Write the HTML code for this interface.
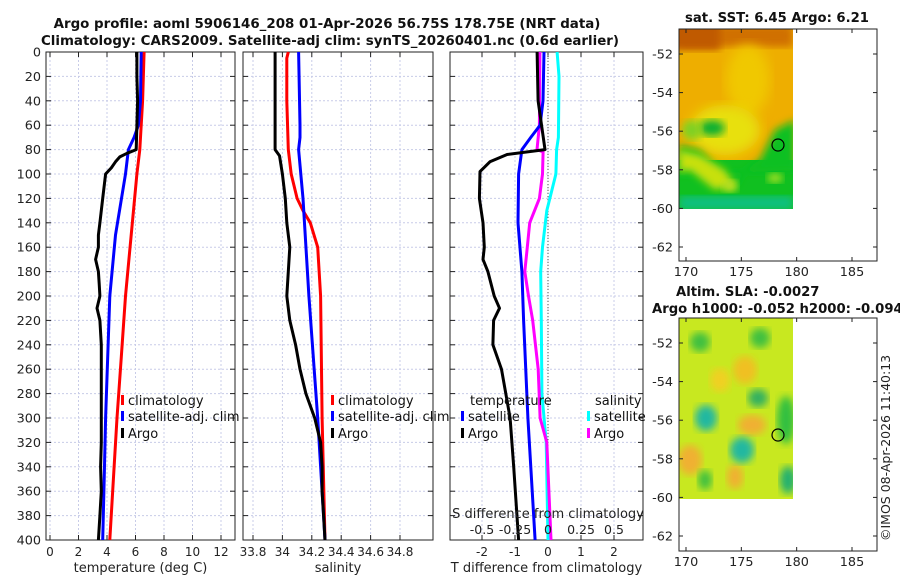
<!DOCTYPE html>
<html><head><meta charset="utf-8"><style>
body{margin:0;background:#fff;}
svg{display:block;font-family:"DejaVu Sans","Liberation Sans",sans-serif;}
</style></head><body>
<svg id="c" width="900" height="580" viewBox="0 0 900 580">
<defs>
<filter id="bl"><feGaussianBlur stdDeviation="4"/></filter>
<filter id="bl2"><feGaussianBlur stdDeviation="6"/></filter>
<clipPath id="m1"><rect x="679" y="29" width="114" height="180"/></clipPath>
<clipPath id="m2"><rect x="679" y="318" width="114" height="181"/></clipPath>
</defs>
<g font-weight="bold" font-size="13.4" text-anchor="middle" fill="#111">
<text x="327" y="28">Argo profile: aoml 5906146_208 01-Apr-2026 56.75S 178.75E (NRT data)</text>
<text x="330" y="45">Climatology: CARS2009. Satellite-adj clim: synTS_20260401.nc (0.6d earlier)</text>
</g>
<!-- SST map -->
<g>
<g clip-path="url(#m1)">
<rect x="679" y="29" width="114" height="180" fill="#eeae00"/>
<rect x="679" y="25" width="114" height="22" fill="#d07000" filter="url(#bl)"/>
<rect x="670" y="20" width="50" height="30" fill="#c05a00" filter="url(#bl)"/>
<ellipse cx="748" cy="80" rx="22" ry="35" fill="#f0c800" filter="url(#bl2)"/>
<ellipse cx="725" cy="130" rx="35" ry="25" fill="#e8e010" filter="url(#bl2)"/>
<rect x="679" y="160" width="114" height="60" fill="#10c020"/>
<path d="M679 145 L700 150 L720 170 L735 188 L745 170 L760 160 L775 130 L795 120 L795 170 L679 175 Z" fill="#10c020" filter="url(#bl)"/>
<path d="M679 150 L700 155 L725 170 L735 185 L715 190 L690 170 L679 172 Z" fill="#c8e010" filter="url(#bl)"/>
<ellipse cx="712" cy="128" rx="13" ry="8" fill="#10b030" filter="url(#bl)"/>
<ellipse cx="692" cy="130" rx="10" ry="10" fill="#80d020" filter="url(#bl)"/>
<rect x="679" y="196" width="114" height="14" fill="#10c080" filter="url(#bl)"/>
<ellipse cx="730" cy="186" rx="8" ry="6" fill="#c0e020" filter="url(#bl)"/>
<ellipse cx="775" cy="178" rx="8" ry="5" fill="#a0e020" filter="url(#bl)"/>
</g>
<circle cx="778" cy="145" r="6" fill="none" stroke="#000" stroke-width="1.2"/>
</g>
<!-- SLA map -->
<g>
<g clip-path="url(#m2)">
<rect x="679" y="318" width="114" height="181" fill="#c8e820"/>
<ellipse cx="745" cy="370" rx="12" ry="14" fill="#f0c020" filter="url(#bl)"/>
<ellipse cx="752" cy="425" rx="14" ry="10" fill="#f0b030" filter="url(#bl)"/>
<ellipse cx="735" cy="477" rx="8" ry="12" fill="#f0b030" filter="url(#bl)"/>
<ellipse cx="690" cy="460" rx="12" ry="15" fill="#f0b030" filter="url(#bl)"/>
<ellipse cx="720" cy="380" rx="10" ry="12" fill="#f0d020" filter="url(#bl)"/>
<ellipse cx="706" cy="418" rx="11" ry="13" fill="#20b8a0" filter="url(#bl)"/>
<ellipse cx="742" cy="450" rx="12" ry="13" fill="#20b8a0" filter="url(#bl)"/>
<ellipse cx="758" cy="398" rx="10" ry="9" fill="#30b060" filter="url(#bl)"/>
<ellipse cx="786" cy="420" rx="9" ry="24" fill="#30c040" filter="url(#bl)"/>
<ellipse cx="700" cy="342" rx="10" ry="10" fill="#40c040" filter="url(#bl)"/>
<ellipse cx="788" cy="480" rx="8" ry="14" fill="#20b070" filter="url(#bl)"/>
<ellipse cx="705" cy="480" rx="7" ry="10" fill="#40c040" filter="url(#bl)"/>
<ellipse cx="760" cy="338" rx="10" ry="10" fill="#40c040" filter="url(#bl)"/>
</g>
<circle cx="778" cy="435" r="6" fill="none" stroke="#000" stroke-width="1.2"/>
</g>
<g font-weight="bold" font-size="13.2" fill="#111">
<text x="777" y="22" text-anchor="middle">sat. SST: 6.45 Argo: 6.21</text>
<text x="676" y="296">Altim. SLA: -0.0027</text>
<text x="652" y="313">Argo h1000: -0.052 h2000: -0.094</text>
</g>
<text transform="translate(890,541) rotate(-90)" font-size="12.5" fill="#222">©IMOS 08-Apr-2026 11:40:13</text>
<g id="plots"></g>
</svg>
<script>
// ---- data ----
const depthTicks=[0,20,40,60,80,100,120,140,160,180,200,220,240,260,280,300,320,340,360,380,400];
const tTicks=[0,2,4,6,8,10,12];
const sTicks=[33.8,34,34.2,34.4,34.6,34.8];
const sTickLabels=["33.8","34","34.2","34.4","34.6","34.8"];
const dtTicks=[-2,-1,0,1,2];
const dsTicks=[-0.5,-0.25,0,0.25,0.5];
const dsTickLabels=["-0.5","-0.25","0","0.25","0.5"];
const tArgoD=[0,20,40,60,80,83,86,90,95,100,120,140,150,160,170,180,190,200,210,220,240,260,280,300,320,340,360,380,400];
const tArgoV=[6.1,6.1,6.15,6.1,6.05,5.4,4.9,4.6,4.3,3.9,3.7,3.5,3.4,3.4,3.2,3.4,3.45,3.5,3.3,3.5,3.6,3.6,3.6,3.6,3.6,3.55,3.6,3.5,3.4];
const tClimD=[0,40,80,100,150,200,250,300,350,400];
const tClimV=[6.6,6.5,6.3,6.1,5.7,5.3,5.0,4.7,4.45,4.2];
const tSatD=[0,40,60,70,80,100,150,200,250,300,350,400];
const tSatV=[6.4,6.35,6.2,5.9,5.5,5.3,4.6,4.2,4.05,3.9,3.8,3.7];
const sArgoD=[0,40,80,85,100,120,140,160,180,200,220,240,260,280,300,320,340,360,380,400];
const sArgoV=[33.95,33.95,33.95,33.98,34.0,34.02,34.03,34.05,34.04,34.03,34.05,34.09,34.12,34.16,34.22,34.26,34.27,34.27,34.28,34.29];
const sClimD=[0,5,40,80,100,120,130,140,160,200,300,400];
const sClimV=[34.04,34.03,34.03,34.04,34.06,34.1,34.14,34.19,34.24,34.26,34.27,34.29];
const sSatD=[0,60,70,80,120,200,300,400];
const sSatV=[34.11,34.12,34.12,34.11,34.14,34.18,34.24,34.29];
const dtArgoD=[0,40,80,84,90,98,120,140,160,170,180,200,210,220,240,260,300,340,400];
const dtArgoV=[-0.33,-0.3,-0.09,-1.24,-1.76,-2.06,-2.08,-1.97,-1.93,-1.97,-1.82,-1.63,-1.47,-1.65,-1.67,-1.41,-1.15,-1.04,-0.89];
const dtSatD=[0,40,60,70,80,100,140,180,220,300,400];
const dtSatV=[-0.12,-0.15,-0.24,-0.52,-0.79,-0.89,-0.91,-0.79,-0.74,-0.61,-0.39];
const dsArgoD=[0,60,80,82,100,120,140,160,180,200,220,260,300,320,400];
const dsArgoV=[-0.061,-0.065,-0.083,-0.037,-0.042,-0.065,-0.139,-0.157,-0.176,-0.148,-0.116,-0.074,-0.06,-0.009,0.023];
const dsSatD=[0,20,70,80,100,130,160,180,220,280,320,400];
const dsSatV=[0.069,0.083,0.079,0.065,0.06,-0.009,-0.042,-0.055,-0.051,-0.046,-0.014,0];
const latTicks=[-52,-54,-56,-58,-60,-62];
const lonTicks=[170,175,180,185];

const NS="http://www.w3.org/2000/svg";
const root=document.getElementById('plots');
function el(tag,attrs,parent,txt){const e=document.createElementNS(NS,tag);for(const k in attrs)e.setAttribute(k,attrs[k]);if(txt!==undefined)e.textContent=txt;(parent||root).appendChild(e);return e;}
const Y0=52,YS=1.22;
const yD=d=>Y0+d*YS;
function lin(v0,p0,v1,p1){return v=>p0+(v-v0)*(p1-p0)/(v1-v0);}
const xT=lin(0,50,12,221), xS=lin(33.8,253,34.8,400), xDT=lin(0,548,2,614), xDS=lin(0,548,0.5,614);

function panel(x0,x1,xs,ticks,labels,name,xlabel,showY){
  const g=el('g',{});
  
  
  for(const t of ticks){el('line',{x1:xs(t),x2:xs(t),y1:Y0,y2:540,stroke:'#c8cce8','stroke-width':1,'stroke-dasharray':'2,2'},g);}
  for(const d of depthTicks){el('line',{x1:x0,x2:x1,y1:yD(d),y2:yD(d),stroke:'#c8cce8','stroke-width':1,'stroke-dasharray':'2,2'},g);
    el('line',{x1:x0,x2:x0+5,y1:yD(d),y2:yD(d),stroke:'#222'},g);el('line',{x1:x1-5,x2:x1,y1:yD(d),y2:yD(d),stroke:'#222'},g);
    if(showY){const t=el('text',{x:x0-5,y:yD(d)+4.5,'text-anchor':'end','font-size':12.8,fill:'#222'},g,String(d));}}
  ticks.forEach((t,i)=>{el('line',{x1:xs(t),x2:xs(t),y1:540,y2:535,stroke:'#222'},g);el('line',{x1:xs(t),x2:xs(t),y1:Y0,y2:Y0+5,stroke:'#222'},g);
    const tx=el('text',{x:xs(t),y:556,'text-anchor':'middle','font-size':12,fill:'#222'},g,labels[i]);
    });
  el('rect',{x:x0,y:Y0,width:x1-x0,height:540-Y0,fill:'none',stroke:'#222','stroke-width':1},g);
  const xl=el('text',{x:(x0+x1)/2,y:572,'text-anchor':'middle','font-size':13,fill:'#222'},g,xlabel);
  
  return g;
}
function series(g,ds,vs,xs,color,name){
  const pts=ds.map((d,i)=>xs(vs[i]).toFixed(1)+','+yD(d).toFixed(1)).join(' ');
  const p=el('polyline',{points:pts,fill:'none',stroke:color,'stroke-width':3,'stroke-linejoin':'round'},g);
  
  
}
function legend(g,x,y,color,label,name){
  el('rect',{x:x,y:y-10,width:3,height:10,fill:color},g);
  const t=el('text',{x:x+7,y:y,'font-size':13,fill:'#111'},g,label);
  
  
}
// panel 1
const g1=panel(46,235,xT,tTicks,tTicks.map(String),'temperature-panel','temperature (deg C)',true);
series(g1,tClimD,tClimV,xT,'#ff0000','temp-climatology-line');
series(g1,tSatD,tSatV,xT,'#0000ff','temp-satellite-line');
series(g1,tArgoD,tArgoV,xT,'#000','temp-argo-line');
legend(g1,121,405,'#ff0000','climatology','legend-climatology');
legend(g1,121,421,'#0000ff','satellite-adj. clim','legend-satellite');
legend(g1,121,438,'#000','Argo','legend-argo');
// panel 2
const g2=panel(243,433,xS,sTicks,sTickLabels,'salinity-panel','salinity',false);
series(g2,sClimD,sClimV,xS,'#ff0000','sal-climatology-line');
series(g2,sSatD,sSatV,xS,'#0000ff','sal-satellite-line');
series(g2,sArgoD,sArgoV,xS,'#000','sal-argo-line');
legend(g2,331,405,'#ff0000','climatology','legend-climatology');
legend(g2,331,421,'#0000ff','satellite-adj. clim','legend-satellite');
legend(g2,331,438,'#000','Argo','legend-argo');
// panel 3
const g3=panel(450,643,xDT,dtTicks,dtTicks.map(String),'difference-panel','T difference from climatology',false);
el('line',{x1:xDT(0),x2:xDT(0),y1:Y0,y2:540,stroke:'#555','stroke-width':1,'stroke-dasharray':'1,2'},g3);
series(g3,dsSatD,dsSatV,xDS,'#00ffff','sdiff-satellite-line');
series(g3,dsArgoD,dsArgoV,xDS,'#ff00ff','sdiff-argo-line');
series(g3,dtSatD,dtSatV,xDT,'#0000ff','tdiff-satellite-line');
series(g3,dtArgoD,dtArgoV,xDT,'#000','tdiff-argo-line');
const lt=el('text',{x:470,y:405,'font-size':13,fill:'#111'},g3,'temperature');

legend(g3,461,421,'#0000ff','satellite','legend-t-satellite');
legend(g3,461,438,'#000','Argo','legend-t-argo');
const ls=el('text',{x:595,y:405,'font-size':13,fill:'#111'},g3,'salinity');

legend(g3,587,421,'#00ffff','satellite','legend-s-satellite');
legend(g3,587,438,'#ff00ff','Argo','legend-s-argo');
const st=el('text',{x:548,y:518,'text-anchor':'middle','font-size':13,fill:'#222'},g3,'S difference from climatology');

dsTicks.forEach((t,i)=>{const tx=el('text',{x:xDS(t),y:534,'text-anchor':'middle','font-size':12.5,fill:'#222'},g3,dsTickLabels[i]);
  });
// map axes
function mapAxes(top,bottom,latY0,name){
  const g=el('g',{});
  
  
  const xl=lin(170,686,185,852), yl=lin(-52,latY0,-62,latY0+193);
  el('rect',{x:679,y:top,width:198,height:bottom-top,fill:'none',stroke:'#222'},g);
  for(const la of latTicks){const y=yl(la);el('line',{x1:679,x2:683,y1:y,y2:y,stroke:'#222'},g);el('line',{x1:873,x2:877,y1:y,y2:y,stroke:'#222'},g);
    const t=el('text',{x:673,y:y+4.5,'text-anchor':'end','font-size':12.8,fill:'#222'},g,String(la));}
  for(const lo of lonTicks){const x=xl(lo);el('line',{x1:x,x2:x,y1:bottom,y2:bottom-4,stroke:'#222'},g);el('line',{x1:x,x2:x,y1:top,y2:top+4,stroke:'#222'},g);
    const t=el('text',{x:x,y:bottom+15,'text-anchor':'middle','font-size':12.8,fill:'#222'},g,String(lo));}
}
mapAxes(29,261,54,'sst-map-axes');
mapAxes(318,551,343,'sla-map-axes');
</script>
</body></html>
